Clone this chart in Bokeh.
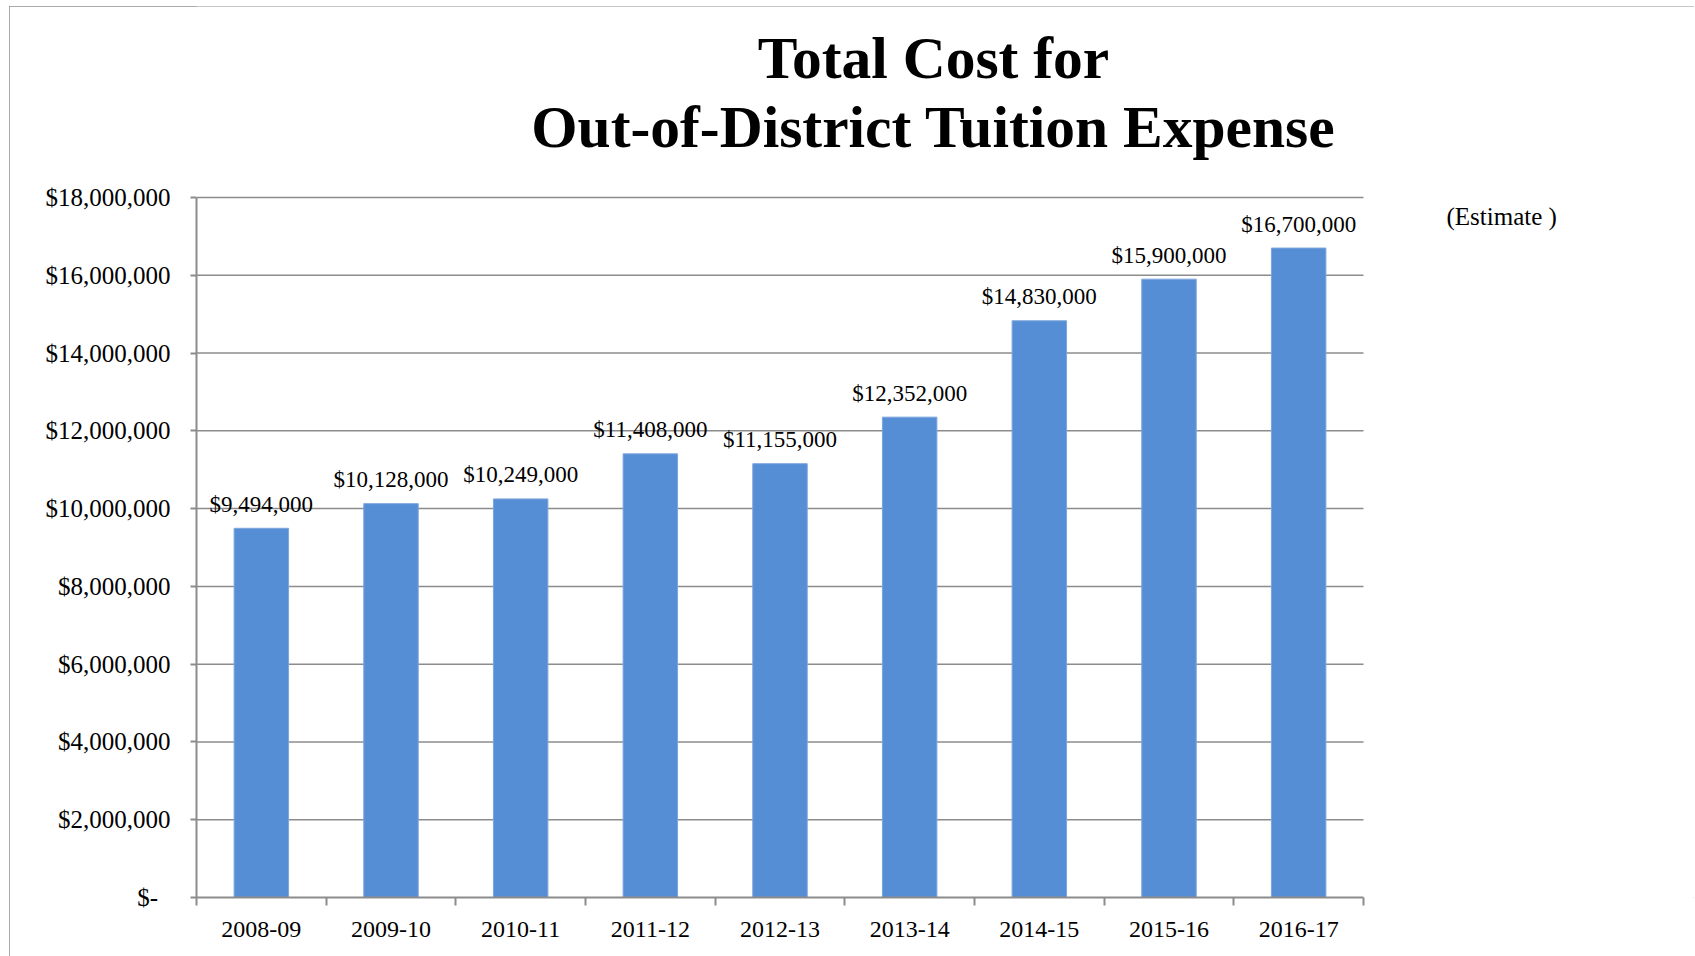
from bokeh.plotting import figure
from bokeh.models import Range1d, FixedTicker, Label, ColumnDataSource
from bokeh.embed import file_html
from bokeh.resources import INLINE
from bokeh.core.properties import value

categories = ["2008-09", "2009-10", "2010-11", "2011-12", "2012-13",
              "2013-14", "2014-15", "2015-16", "2016-17"]
costs = [9494000, 10128000, 10249000, 11408000, 11155000,
         12352000, 14830000, 15900000, 16700000]
y_ticks = [0, 2000000, 4000000, 6000000, 8000000, 10000000,
           12000000, 14000000, 16000000, 18000000]
y_tick_labels = ["$-\u00a0\u00a0", "$2,000,000", "$4,000,000", "$6,000,000", "$8,000,000",
                 "$10,000,000", "$12,000,000", "$14,000,000", "$16,000,000", "$18,000,000"]
title_lines = ["Total Cost for", "Out-of-District Tuition Expense"]
note_text = "(Estimate )"

FONT = "Liberation Serif"
GRAY = "#8c8c8c"
BAR = "#558ED5"

n = len(categories)
xs = [i + 0.5 for i in range(n)]
labels = ["${:,}".format(c) for c in costs]
src = ColumnDataSource(dict(x=xs, cost=costs, label=labels))
grid_y = y_ticks[1:]
grid_src = ColumnDataSource(dict(y=grid_y, x0=[0] * len(grid_y), x1=[n] * len(grid_y)))

# canvas / layout (pixels)
W, H = 1685, 950
LEFT, BOTTOM = 187, 59
frame_w, frame_h = W - LEFT, H - BOTTOM
plot_w, plot_h = 1167, 700          # part of the frame used by the bar chart
x_end = n * frame_w / plot_w
y_end = y_ticks[-1] * frame_h / plot_h

p = figure(width=W, height=H, output_backend="svg", toolbar_location=None,
           x_range=Range1d(0, x_end), y_range=Range1d(0, y_end),
           min_border_left=LEFT, min_border_right=0,
           min_border_top=0, min_border_bottom=BOTTOM)
p.margin = (6, 0, 0, 9)
p.outline_line_color = None
p.background_fill_color = "white"
p.border_fill_color = "white"
p.styles = {"outline": "1.5px solid #8f8f8f", "outline-offset": "-1px"}

# horizontal gridlines limited to the bar area
p.segment(x0="x0", y0="y", x1="x1", y1="y", source=grid_src,
          line_color=GRAY, line_width=1.5, level="underlay")

p.vbar(x="x", top="cost", width=0.42, source=src, fill_color=BAR,
       line_color="#7ea6dc", line_width=1)
p.text(x="x", y="cost", text="label", source=src, text_align="center",
       text_baseline="middle", y_offset=-24, text_font=value(FONT),
       text_font_size="23px", text_color="black")

# y axis
p.yaxis.ticker = FixedTicker(ticks=y_ticks, minor_ticks=[])
p.yaxis.bounds = (0, y_ticks[-1])
p.yaxis.major_label_overrides = {t: l for t, l in zip(y_ticks, y_tick_labels)}
p.yaxis.axis_line_color = GRAY
p.yaxis.axis_line_width = 2
p.yaxis.major_tick_line_color = GRAY
p.yaxis.major_tick_line_width = 2
p.yaxis.major_tick_out = 6
p.yaxis.major_tick_in = 0
p.yaxis.minor_tick_line_color = None
p.yaxis.major_label_text_font = FONT
p.yaxis.major_label_text_font_size = "25px"
p.yaxis.major_label_text_color = "black"
p.yaxis.major_label_standoff = 20

# x axis
p.xaxis.ticker = FixedTicker(ticks=xs, minor_ticks=list(range(n + 1)))
p.xaxis.bounds = (0, n)
p.xaxis.major_label_overrides = {x: c for x, c in zip(xs, categories)}
p.xaxis.axis_line_color = GRAY
p.xaxis.axis_line_width = 2
p.xaxis.major_tick_line_color = None
p.xaxis.major_tick_out = 0
p.xaxis.major_tick_in = 0
p.xaxis.minor_tick_line_color = GRAY
p.xaxis.minor_tick_line_width = 2
p.xaxis.minor_tick_out = 8
p.xaxis.minor_tick_in = 0
p.xaxis.major_label_text_font = FONT
p.xaxis.major_label_text_font_size = "24px"
p.xaxis.major_label_text_color = "black"
p.xaxis.major_label_standoff = 16

p.xgrid.grid_line_color = None
p.ygrid.grid_line_color = None

# screen units: relative to the plot frame (origin bottom-left)
p.add_layout(Label(x=737, y=840, x_units="screen", y_units="screen",
                   text=title_lines[0], text_align="center", text_baseline="alphabetic",
                   text_font=FONT, text_font_style="bold", text_font_size="59.5px",
                   text_color="black"))
p.add_layout(Label(x=737, y=771, x_units="screen", y_units="screen",
                   text=title_lines[1], text_align="center", text_baseline="alphabetic",
                   text_font=FONT, text_font_style="bold", text_font_size="59.5px",
                   text_color="black"))
p.add_layout(Label(x=1250, y=681, x_units="screen", y_units="screen",
                   text=note_text, text_align="left", text_baseline="middle",
                   text_font=FONT, text_font_size="25px", text_color="black"))

open("out.html", "w").write(file_html(p, INLINE))
